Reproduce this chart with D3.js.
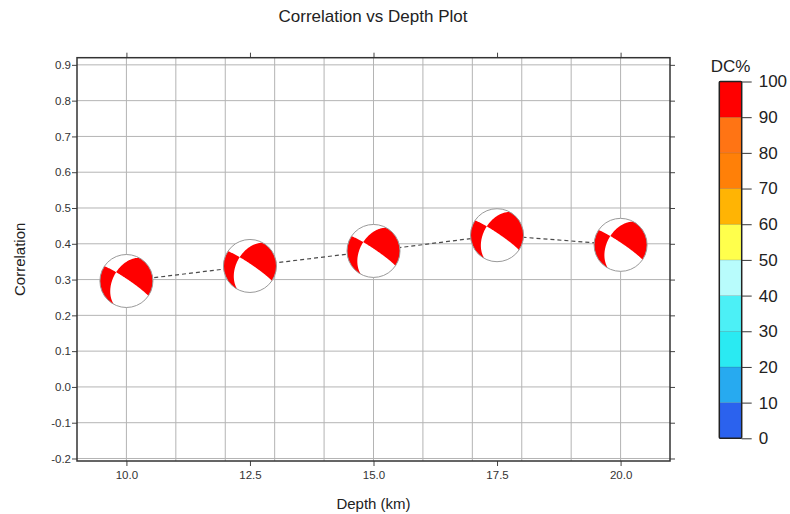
<!DOCTYPE html>
<html>
<head>
<meta charset="utf-8">
<script src="https://cdn.jsdelivr.net/npm/d3@7"></script>
<style>
  html, body { margin: 0; padding: 0; background: #fff; }
  svg { display: block; font-family: "Liberation Sans", Arial, sans-serif; }
</style>
</head>
<body>
<svg id="chart" width="790" height="514"></svg>
<script>
// ---------- data ----------
const depths = [10, 12.5, 15, 17.5, 20];
const correlations = [0.296, 0.338, 0.380, 0.424, 0.397];
const dcPercent = [95, 95, 95, 95, 95];
const strikes = [304, 304, 304, 304, 304];
const dips = [84, 84, 84, 84, 84];
const rakes = [-138, -138, -138, -138, -138];

const xTickValues = [10, 12.5, 15, 17.5, 20];
const xGridValues = [10, 11, 12, 13, 14, 15, 16, 17, 18, 19, 20];
const yTickValues = [-0.2, -0.1, 0.0, 0.1, 0.2, 0.3, 0.4, 0.5, 0.6, 0.7, 0.8, 0.9];
const dcBreaks = [0, 10, 20, 30, 40, 50, 60, 70, 80, 90, 100];
const dcColors = ["#2b62ee", "#27aaf0", "#2aeaf2", "#4cf0f6", "#b8fcfc",
                  "#ffff4c", "#ffb404", "#ff8008", "#ff7414", "#ff0000"];

// ---------- layout ----------
const svg = d3.select("#chart");
const plot = { left: 77, right: 670, top: 57.7, bottom: 461 };
const x = d3.scaleLinear().domain([9, 21]).range([plot.left, plot.right]);
const y = d3.scaleLinear().domain([-0.207, 0.92]).range([plot.bottom, plot.top]);
const ballR = 26.5;
const fmt1 = d3.formatLocale({ decimal: ".", thousands: ",", grouping: [3], currency: ["", ""], minus: "-" }).format(".1f");

// title
svg.append("text").attr("x", 373).attr("y", 21.5).attr("text-anchor", "middle")
  .attr("font-size", 17).attr("fill", "#222").text("Correlation vs Depth Plot");

// grid
const g = svg.append("g");
g.selectAll("line.vg").data(xGridValues).join("line")
  .attr("x1", d => x(d)).attr("x2", d => x(d))
  .attr("y1", plot.top).attr("y2", plot.bottom)
  .attr("stroke", "#b4b4b4").attr("stroke-width", 1);
g.selectAll("line.hg").data(yTickValues).join("line")
  .attr("y1", d => y(d)).attr("y2", d => y(d))
  .attr("x1", plot.left).attr("x2", plot.right)
  .attr("stroke", "#b4b4b4").attr("stroke-width", 1);

// axes
const axisStyle = sel => {
  sel.select(".domain").remove();
  sel.selectAll(".tick line").attr("stroke", "#444").attr("stroke-width", 1);
  sel.selectAll(".tick text").attr("fill", "#333").attr("font-size", 11.5)
     .attr("font-family", "Liberation Sans, Arial, sans-serif");
};
svg.append("g").attr("transform", `translate(0,${plot.bottom})`)
  .call(d3.axisBottom(x).tickValues(xTickValues).tickFormat(fmt1).tickSizeOuter(0).tickSize(5).tickPadding(5))
  .call(axisStyle);
svg.append("g").attr("transform", `translate(0,${plot.top})`)
  .call(d3.axisTop(x).tickValues(xTickValues).tickFormat("").tickSizeOuter(0).tickSize(5))
  .call(axisStyle);
svg.append("g").attr("transform", `translate(${plot.left},0)`)
  .call(d3.axisLeft(y).tickValues(yTickValues).tickFormat(fmt1).tickSizeOuter(0).tickSize(5).tickPadding(1))
  .call(axisStyle);
svg.append("g").attr("transform", `translate(${plot.right},0)`)
  .call(d3.axisRight(y).tickValues(yTickValues).tickFormat("").tickSizeOuter(0).tickSize(5))
  .call(axisStyle);

// frame
svg.append("rect").attr("x", plot.left).attr("y", plot.top)
  .attr("width", plot.right - plot.left).attr("height", plot.bottom - plot.top)
  .attr("fill", "none").attr("stroke", "#333").attr("stroke-width", 1.5);

// axis titles
svg.append("text").attr("x", (plot.left + plot.right) / 2).attr("y", 509)
  .attr("text-anchor", "middle").attr("font-size", 15).attr("fill", "#222").text("Depth (km)");
svg.append("text").attr("transform", `translate(24.5,${(plot.top + plot.bottom) / 2}) rotate(-90)`)
  .attr("text-anchor", "middle").attr("font-size", 15).attr("fill", "#222").text("Correlation");

// dashed connecting line
const pts = depths.map((d, i) => [d, correlations[i]]);
svg.append("path").datum(pts)
  .attr("d", d3.line().x(d => x(d[0])).y(d => y(d[1])))
  .attr("fill", "none").attr("stroke", "#4a4a4a").attr("stroke-width", 1.2)
  .attr("stroke-dasharray", "4,3");

// ---------- beachballs (lower-hemisphere equal-area) ----------
const dcColor = d3.scaleThreshold().domain(dcBreaks.slice(1, -1)).range(dcColors);
const rad = Math.PI / 180;
const N = 120, ext = 1.04;
function radiation(strike, dip, rake) {
  const f = strike * rad, dl = dip * rad, l = rake * rad;
  const n = [-Math.sin(dl) * Math.sin(f), Math.sin(dl) * Math.cos(f), -Math.cos(dl)];
  const u = [Math.cos(l) * Math.cos(f) + Math.sin(l) * Math.cos(dl) * Math.sin(f),
             Math.cos(l) * Math.sin(f) - Math.sin(l) * Math.cos(dl) * Math.cos(f),
             -Math.sin(l) * Math.sin(dl)];
  const vals = new Array(N * N);
  for (let j = 0; j < N; j++) {
    for (let i = 0; i < N; i++) {
      let px = -ext + (i + 0.5) * 2 * ext / N;
      let py = -ext + (j + 0.5) * 2 * ext / N;
      let r = Math.hypot(px, py);
      if (r > 0.9999) { px *= 0.9999 / r; py *= 0.9999 / r; r = 0.9999; }
      const th = 2 * Math.asin(r / Math.SQRT2);
      const s = r > 1e-9 ? Math.sin(th) / r : 0;
      const v = [-py * s, px * s, Math.cos(th)];
      const vn = v[0] * n[0] + v[1] * n[1] + v[2] * n[2];
      const vu = v[0] * u[0] + v[1] * u[1] + v[2] * u[2];
      vals[i + j * N] = vn * vu;
    }
  }
  return d3.contours().size([N, N]).thresholds([0])(vals)[0];
}

const defs = svg.append("defs");
const balls = svg.append("g");
depths.forEach((d, i) => {
  const cx = x(d), cy = y(correlations[i]);
  defs.append("clipPath").attr("id", "clip" + i)
    .append("circle").attr("cx", cx).attr("cy", cy).attr("r", ballR);
  const k = ballR * 2 * ext / N;
  const proj = d3.geoIdentity().scale(k).translate([cx - ballR * ext, cy - ballR * ext]);
  const bg = balls.append("g");
  bg.append("circle").attr("cx", cx).attr("cy", cy).attr("r", ballR).attr("fill", "#fff");
  bg.append("path").datum(radiation(strikes[i], dips[i], rakes[i]))
    .attr("d", d3.geoPath(proj))
    .attr("fill", dcColor(dcPercent[i])).attr("clip-path", `url(#clip${i})`);
  bg.append("circle").attr("cx", cx).attr("cy", cy).attr("r", ballR)
    .attr("fill", "none").attr("stroke", "#9a9a9a").attr("stroke-width", 1);
});

// ---------- colorbar ----------
const cb = { left: 719.3, right: 741.7, top: 81.5, bottom: 438.3 };
const cy2 = d3.scaleLinear().domain([0, 100]).range([cb.bottom, cb.top]);
const cbg = svg.append("g");
cbg.selectAll("rect.seg").data(dcColors).join("rect")
  .attr("x", cb.left).attr("width", cb.right - cb.left)
  .attr("y", (c, i) => cy2(dcBreaks[i + 1]))
  .attr("height", (c, i) => cy2(dcBreaks[i]) - cy2(dcBreaks[i + 1]))
  .attr("fill", c => c).attr("stroke", "rgba(0,0,0,0.18)").attr("stroke-width", 0.6);
cbg.append("rect").attr("x", cb.left).attr("y", cb.top)
  .attr("width", cb.right - cb.left).attr("height", cb.bottom - cb.top)
  .attr("fill", "none").attr("stroke", "#222").attr("stroke-width", 1.5).attr("rx", 1);
cbg.append("g").attr("transform", `translate(${cb.right},0)`)
  .call(d3.axisRight(cy2).tickValues(dcBreaks).tickSize(10).tickPadding(7).tickSizeOuter(0))
  .call(sel => {
    sel.select(".domain").remove();
    sel.selectAll(".tick line").attr("stroke", "#333").attr("stroke-width", 1);
    sel.selectAll(".tick text").attr("fill", "#222").attr("font-size", 17)
       .attr("font-family", "Liberation Sans, Arial, sans-serif");
  });
svg.append("text").attr("x", (cb.left + cb.right) / 2).attr("y", 72.3)
  .attr("text-anchor", "middle").attr("font-size", 17).attr("fill", "#222").text("DC%");
</script>
</body>
</html>
